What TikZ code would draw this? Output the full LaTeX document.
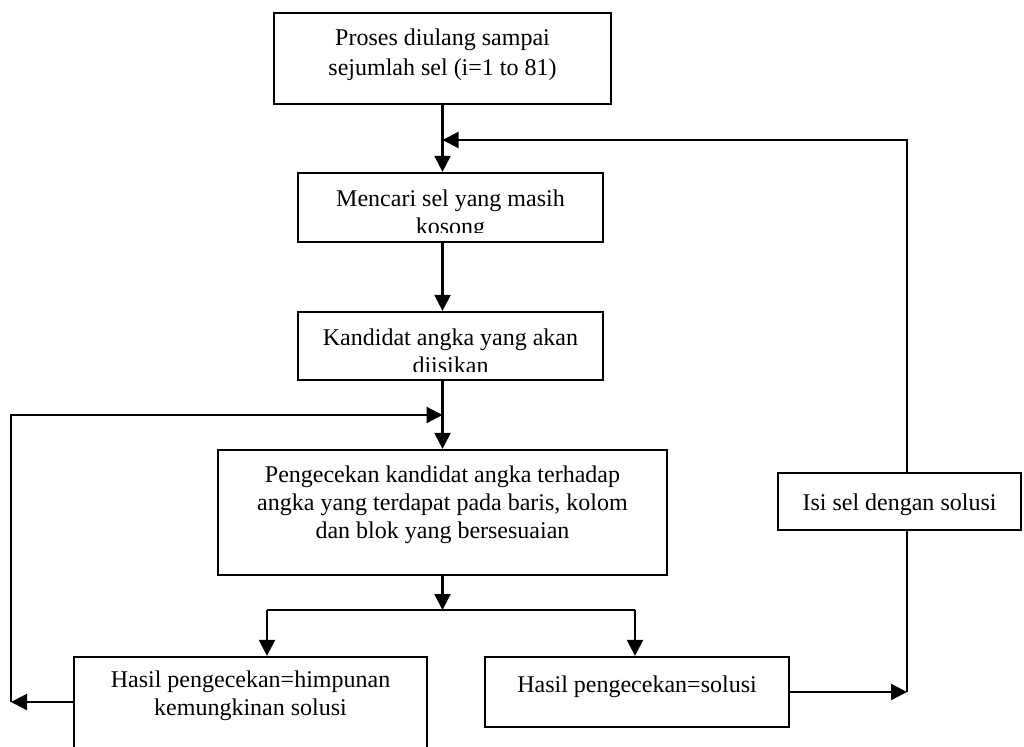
\documentclass[tikz,border=0pt]{standalone}
\usepackage{fontspec}
\setmainfont{Liberation Serif}
\usetikzlibrary{arrows.meta}
\begin{document}
\begin{tikzpicture}[x=1pt,y=-1pt,
  box/.style={draw, line width=2.2pt, inner sep=0pt},
  lbl/.style={anchor=base, align=center, inner sep=0pt, font=\fontsize{24}{28}\selectfont},
  conn/.style={line width=2.2pt},
  arr/.style={conn, -{Triangle[length=16pt,width=16pt]}}]
\useasboundingbox (0,0) rectangle (1024,746);
% boxes
\node[box, minimum width=337pt, minimum height=91pt] (top) at (442.5,58.5) {};
\node[box, minimum width=305pt, minimum height=69pt] (b2) at (450.5,207.5) {};
\node[box, minimum width=305pt, minimum height=68pt] (b3) at (450.5,346) {};
\node[box, minimum width=449pt, minimum height=125pt] (b4) at (442.5,512.5) {};
\node[box, minimum width=353pt, minimum height=123pt] (b5) at (250.5,718.5) {};
\node[box, minimum width=304pt, minimum height=70pt] (b6) at (637,692) {};
\node[box, minimum width=243pt, minimum height=57pt] (isi) at (899.5,501.5) {};
% texts (base anchor = baseline of the last line)
\node[lbl, font=\fontsize{24}{30}\selectfont] (topt) at (442.5,76) {Proses diulang sampai\\sejumlah sel (i=1 to 81)};
\begin{scope}
\clip (298,174) rectangle (603,232);
\node[lbl] (b2t) at (450.5,234) {Mencari sel yang masih\\kosong};
\end{scope}
\begin{scope}
\clip (298,313) rectangle (603,371);
\node[lbl] (b3t) at (450.5,373) {Kandidat angka yang akan\\diisikan};
\end{scope}
\node[lbl] (b4t) at (442.5,538) {Pengecekan kandidat angka terhadap\\angka yang terdapat pada baris, kolom\\dan blok yang bersesuaian};
\node[lbl] (b5t) at (250.5,715) {Hasil pengecekan=himpunan\\kemungkinan solusi};
\node[lbl] (b6t) at (637,692) {Hasil pengecekan=solusi};
\node[lbl] (isit) at (899.5,510) {Isi sel dengan solusi};
% coordinates
\coordinate (j1) at (442.5,140);
\coordinate (j2) at (442.5,415);
\coordinate (br) at (442.5,610);
\coordinate (brL) at (267,610);
\coordinate (brR) at (635,610);
\coordinate (cL) at (11,702);
\coordinate (cLt) at (11,415);
\coordinate (cR) at (907,692);
\coordinate (cRt) at (907,140);
% connectors
\draw[arr] (top.south) -- (top.south |- b2.north);
\draw[arr] (b2.south -| top.south) -- (b3.north -| top.south);
\draw[arr] (b3.south -| b4.north) -- (b4.north);
\draw[arr] (b4.south) -- (br);
\draw[conn] (brL) -- (brR);
\draw[arr] (brL) -- (brL |- b5.north);
\draw[arr] (brR) -- (brR |- b6.north);
\draw[arr] (b5.west |- cL) -- (cL);
\draw[arr] (cL) -- (cLt) -- (j2);
\draw[arr] (b6.east) -- (cR);
\draw[conn] (cR) -- (cR |- isi.south);
\draw[conn] (cR |- isi.north) -- (cRt) -- (j1);
\draw[arr] (cRt) -- (j1);
\end{tikzpicture}
\end{document}
